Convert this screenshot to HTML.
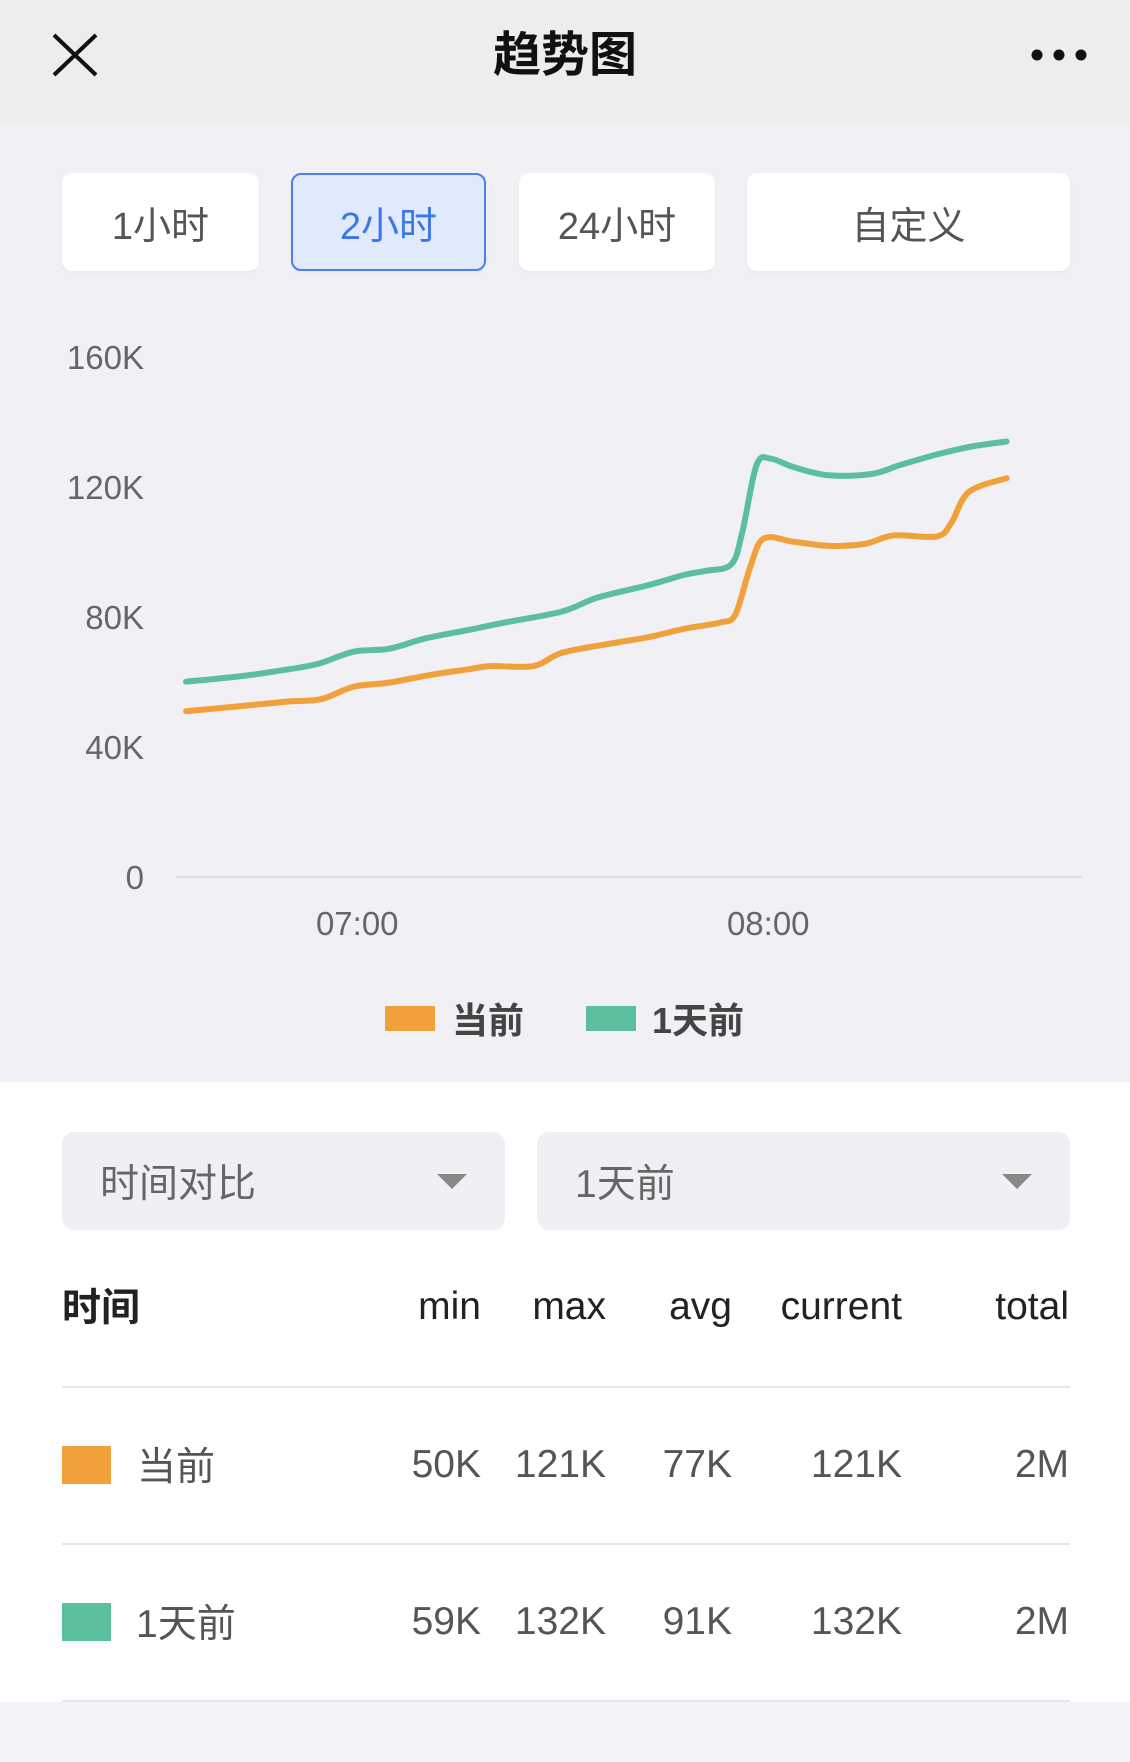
<!DOCTYPE html>
<html><head><meta charset="utf-8">
<style>
*{margin:0;padding:0;box-sizing:border-box}
body{width:1130px;height:1762px;background:#f4f4f8;font-family:"Liberation Sans","Noto Sans CJK SC",sans-serif;position:relative;overflow:hidden}
.abs{position:absolute}
#hdr{left:0;top:0;width:1130px;height:124px;background:#ededed}
#title{left:0;width:1130px;top:22px;text-align:center;font-size:48px;font-weight:bold;color:#111;line-height:68px}
#chartsec{left:0;top:124px;width:1130px;height:958px;background:#f1f1f5}
.btn{top:173px;height:98px;background:#fff;border-radius:10px;font-size:38px;color:#555;display:flex;align-items:center;justify-content:center;box-shadow:0 1px 3px rgba(0,0,0,0.05)}
.btn.on{background:#e1eafd;border:2px solid #4a80e8;color:#3b78e7}
#white{left:0;top:1082px;width:1130px;height:620px;background:#fff}
.dd{top:1132px;height:98px;background:#f0f0f4;border-radius:12px;font-size:39px;color:#666;display:flex;align-items:center;padding-left:38px}
.tri{width:0;height:0;border-left:15px solid transparent;border-right:15px solid transparent;border-top:15px solid #888;position:absolute;top:42px}
.th{font-size:39px;color:#222;top:1282px;text-align:right;line-height:50px}
.td{font-size:39px;color:#555;text-align:right;line-height:50px}
.hl{left:62px;width:1008px;height:2px;background:#e8e8ec}
</style></head><body>
<div class="abs" id="hdr">
  <svg class="abs" style="left:50px;top:31px" width="50" height="48"><path d="M4 4L46 44M46 4L4 44" stroke="#111" stroke-width="4"/></svg>
  <div class="abs" id="title">趋势图</div>
  <svg class="abs" style="left:1030px;top:47px" width="60" height="16"><circle cx="7" cy="8" r="5.5" fill="#111"/><circle cx="29" cy="8" r="5.5" fill="#111"/><circle cx="51" cy="8" r="5.5" fill="#111"/></svg>
</div>
<div class="abs" id="chartsec"></div>
<div class="abs btn" style="left:62px;width:197px">1小时</div>
<div class="abs btn on" style="left:291px;width:195px">2小时</div>
<div class="abs btn" style="left:519px;width:196px">24小时</div>
<div class="abs btn" style="left:747px;width:323px">自定义</div>

<svg class="abs" id="chart" style="left:0;top:300px" width="1130" height="760"></svg>

<div class="abs" style="left:385px;top:1006px;width:50px;height:25px;background:#f0a13c"></div>
<div class="abs" style="left:452px;top:992px;font-size:36px;font-weight:bold;color:#444">当前</div>
<div class="abs" style="left:586px;top:1006px;width:50px;height:25px;background:#5bbf9f"></div>
<div class="abs" style="left:652px;top:992px;font-size:36px;font-weight:bold;color:#444">1天前</div>

<div class="abs" id="white"></div>
<div class="abs dd" style="left:62px;width:443px">时间对比<div class="tri" style="left:375px"></div></div>
<div class="abs dd" style="left:537px;width:533px">1天前<div class="tri" style="left:465px"></div></div>

<div class="abs th" style="left:62px;text-align:left;font-weight:bold;top:1284px">时间</div>
<div class="abs th" style="left:361px;width:120px">min</div>
<div class="abs th" style="left:466px;width:140px">max</div>
<div class="abs th" style="left:592px;width:140px">avg</div>
<div class="abs th" style="left:722px;width:180px">current</div>
<div class="abs th" style="left:929px;width:140px">total</div>
<div class="abs hl" style="top:1386px"></div>

<div class="abs" style="left:62px;top:1446px;width:49px;height:38px;background:#f0a13c"></div>
<div class="abs td" style="left:137px;top:1443px;text-align:left">当前</div>
<div class="abs td" style="left:361px;top:1440px;width:120px">50K</div>
<div class="abs td" style="left:466px;top:1440px;width:140px">121K</div>
<div class="abs td" style="left:592px;top:1440px;width:140px">77K</div>
<div class="abs td" style="left:722px;top:1440px;width:180px">121K</div>
<div class="abs td" style="left:929px;top:1440px;width:140px">2M</div>
<div class="abs hl" style="top:1543px"></div>

<div class="abs" style="left:62px;top:1603px;width:49px;height:38px;background:#5bbf9f"></div>
<div class="abs td" style="left:136px;top:1600px;text-align:left">1天前</div>
<div class="abs td" style="left:361px;top:1597px;width:120px">59K</div>
<div class="abs td" style="left:466px;top:1597px;width:140px">132K</div>
<div class="abs td" style="left:592px;top:1597px;width:140px">91K</div>
<div class="abs td" style="left:722px;top:1597px;width:180px">132K</div>
<div class="abs td" style="left:929px;top:1597px;width:140px">2M</div>
<div class="abs hl" style="top:1700px"></div>

<script>
// minutes after 06:35, values in K
const greenT = [0,7.6,12.8,19.1,24.4,29.6,34.9,41.2,46.5,54.9,60.1,67.5,72.8,75.9,79.6,81.2,83.3,85.4,88.6,93.8,100.1,104.3,109.6,114.8,119.8];
const greenV = [60.1,61.7,63.2,65.5,69.3,70.2,73.4,76,78.3,81.7,86,89.8,93,94.2,96.2,106,126.8,128.7,126.2,123.6,124,126.8,130,132.5,134];
const orangeT = [0,7.6,14.9,19.7,24.4,29.6,36,41.2,44.4,50.7,54.9,62.2,67.5,72.8,78,80.2,82.3,84.3,88.6,93.8,99.1,103.3,109.6,111.7,114.3,119.8];
const orangeV = [51,52.5,54,54.7,58.5,59.8,62.3,63.9,64.9,64.9,69,71.9,73.8,76.4,78.3,80.8,94.9,104.1,103.2,101.9,102.5,105.1,104.8,108.9,118.5,122.7];
const yTicks = [0,40,80,120,160];
const yTickLabels = ["0","40K","80K","120K","160K"];
const xTicks = [25,85];
const xTickLabels = ["07:00","08:00"];

const svg = document.getElementById('chart');
const NS = 'http://www.w3.org/2000/svg';
const OY = 300;
function xs(t){return 186 + t*(411/60);}
function ys(v){return 877 - OY - v*(520/160);}
function add(tag, attrs){const e=document.createElementNS(NS,tag);for(const k in attrs)e.setAttribute(k,attrs[k]);svg.appendChild(e);return e;}

const axis = add('line',{x1:176,x2:1082,y1:ys(0),y2:ys(0),stroke:'#dcdce0','stroke-width':2});


yTicks.forEach((v,i)=>{
  const t = add('text',{x:144,y:ys(v)+12,'text-anchor':'end','font-size':33,fill:'#666','font-family':'Liberation Sans, sans-serif'});
  t.textContent = yTickLabels[i];
  
  
});
xTicks.forEach((m,i)=>{
  const t = add('text',{x:xs(m),y:635,'text-anchor':'middle','font-size':33,fill:'#666','font-family':'Liberation Sans, sans-serif'});
  t.textContent = xTickLabels[i];
  
  
});
function pathFor(T,V){
  const p=T.map((t,i)=>[xs(t),ys(V[i])]);
  let d='M'+p[0][0]+' '+p[0][1];
  for(let i=0;i<p.length-1;i++){
    const p0=p[Math.max(0,i-1)],p1=p[i],p2=p[i+1],p3=p[Math.min(p.length-1,i+2)];
    const c1=[p1[0]+(p2[0]-p0[0])/6,p1[1]+(p2[1]-p0[1])/6];
    const c2=[p2[0]-(p3[0]-p1[0])/6,p2[1]-(p3[1]-p1[1])/6];
    d+=' C'+c1.join(' ')+' '+c2.join(' ')+' '+p2.join(' ');
  }
  return d;
}
const g = add('path',{d:pathFor(greenT,greenV),fill:'none',stroke:'#5bbf9f','stroke-width':6,'stroke-linecap':'round','stroke-linejoin':'round'});


const o = add('path',{d:pathFor(orangeT,orangeV),fill:'none',stroke:'#f0a13c','stroke-width':6,'stroke-linecap':'round','stroke-linejoin':'round'});


</script>
</body></html>
